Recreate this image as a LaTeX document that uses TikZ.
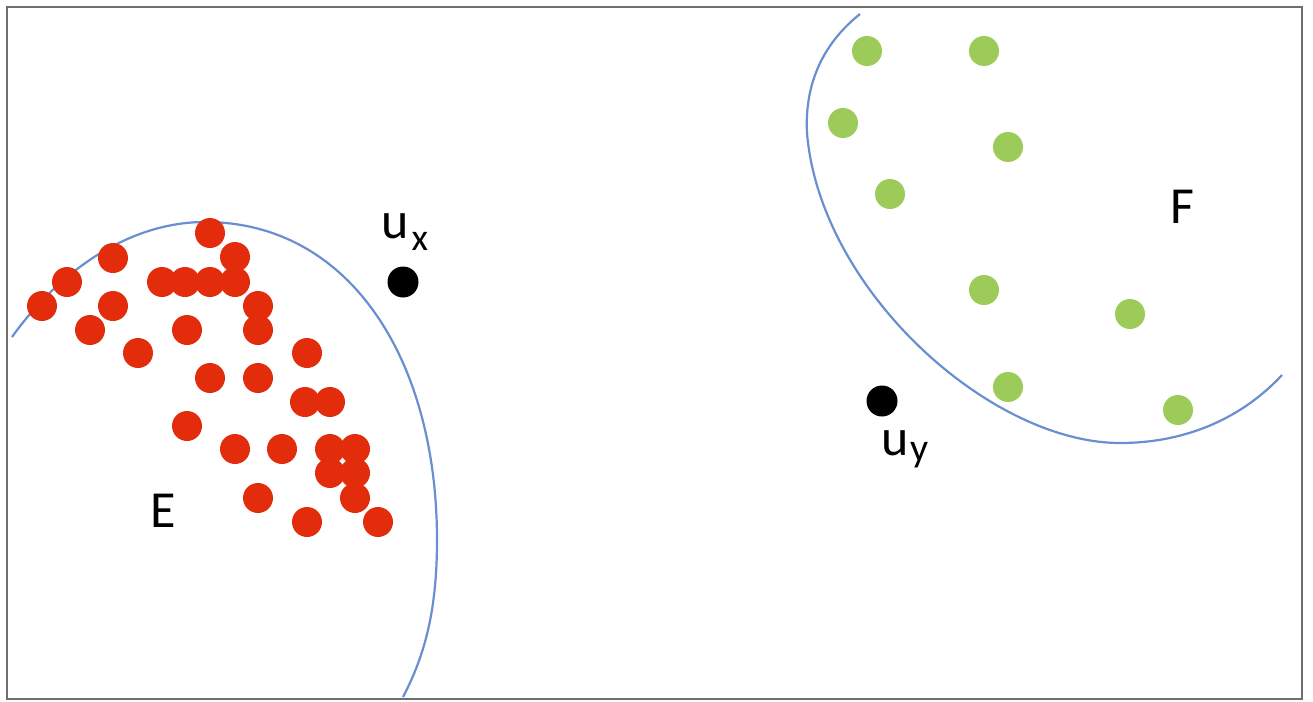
\documentclass[tikz,border=0pt]{standalone}
\usepackage{fontspec}
\setmainfont{Carlito}
\definecolor{reddot}{HTML}{E32C0C}
\definecolor{greendot}{HTML}{9CCB5A}
\definecolor{curveblue}{HTML}{6A8FD0}
\definecolor{framegray}{HTML}{6E6E6E}
\tikzset{
  rdot/.style={circle,fill=reddot,inner sep=0pt,minimum size=15pt},
  gdot/.style={circle,fill=greendot,inner sep=0pt,minimum size=15pt},
  bdot/.style={circle,fill=black,inner sep=0pt,minimum size=15.5pt},
  border/.style={draw=framegray,line width=1.25pt},
  cluster/.style={draw=curveblue,line width=1.1pt},
  lbl/.style={inner sep=0pt,font=\fontsize{26}{26}\selectfont}
}
\begin{document}
\begin{tikzpicture}[x=0.5pt,y=-0.5pt]
\useasboundingbox (0,0) rectangle (1313,702);
\fill[white] (0,0) rectangle (1313,702);
\draw[border] (7,7) rectangle (1302,699);
% cluster boundaries
\draw[cluster] (12,337) .. controls (60,270) and (130,222) .. (205,222)
  .. controls (350,222) and (437,360) .. (437,540)
  .. controls (437,610) and (425,655) .. (403,697);
\draw[cluster] (860,14) .. controls (815,50) and (805,95) .. (807,133)
  .. controls (820,290) and (990,443) .. (1120,443)
  .. controls (1190,443) and (1245,415) .. (1282,375);
% red points
\foreach \n/\x/\y in {1/210/233,2/235/257,3/113/258,4/67/282,5/42/306,6/162/282,7/185/282,8/210/282,9/235/282,10/258/306,11/258/330,12/113/306,13/90/330,14/187/330,15/138/353,16/307/353,17/210/378,18/258/378,19/305/402,20/330/402,21/187/426,22/235/449,23/282/449,24/330/449,25/355/449,26/330/473,27/355/473,28/355/498,29/258/498,30/307/522,31/378/522}
  \node[rdot] (e\n) at (\x,\y) {};
% green points
\foreach \n/\x/\y in {1/867/51,2/984/51,3/843/123,4/1008/147,5/890/194,6/984/290,7/1130/314,8/1008/387,9/1178/410}
  \node[gdot] (f\n) at (\x,\y) {};
% black points
\node[bdot] (ux) at (403,282) {};
\node[bdot] (uy) at (882,401) {};
% labels
\node[lbl,anchor=base west] (uxl) at (381,238) {u\kern1.5pt\raisebox{-6pt}{\fontsize{19}{19}\selectfont x}};
\node[lbl,anchor=base west] (uyl) at (881,455) {u\kern1pt\raisebox{-3pt}{\fontsize{20}{20}\selectfont y}};
\node[lbl,anchor=base] (E) at (163,527) {E};
\node[lbl,anchor=base] (F) at (1182,223) {F};
\end{tikzpicture}
\end{document}
